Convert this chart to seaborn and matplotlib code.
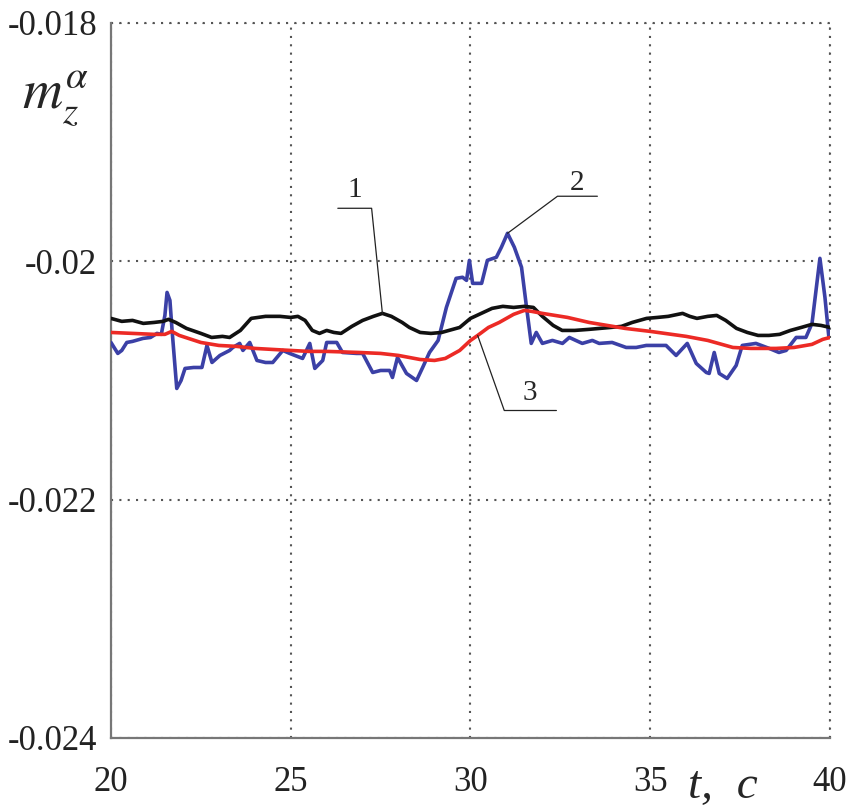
import numpy as np
import pandas as pd
import matplotlib
matplotlib.use("Agg")
import matplotlib.pyplot as plt
import seaborn as sns

# curve 1 (black)
black_t = [20.0, 20.3, 20.6, 20.9, 21.2, 21.45, 21.6, 21.8, 22.1, 22.5,
           22.8, 23.1, 23.3, 23.6, 23.9, 24.3, 24.7, 25.0, 25.2, 25.4,
           25.6, 25.8, 26.0, 26.2, 26.4, 26.7, 27.0, 27.3, 27.55, 27.8,
           28.1, 28.3, 28.6, 28.9, 29.2, 29.4, 29.7, 30.0, 30.3, 30.6,
           30.9, 31.2, 31.5, 31.75, 32.0, 32.3, 32.55, 32.9, 33.3, 33.6,
           33.9, 34.2, 34.5, 34.9, 35.2, 35.5, 35.9, 36.1, 36.3, 36.6,
           36.85, 37.1, 37.4, 37.7, 38.0, 38.3, 38.6, 38.9, 39.2, 39.5,
           39.75, 40.0]
black_m = [-0.020479, -0.020504, -0.020496, -0.020521, -0.020513, -0.020504, -0.020487, -0.020513, -0.020563, -0.020605,
           -0.020639, -0.020630, -0.020639, -0.020580, -0.020479, -0.020462, -0.020462, -0.020471, -0.020462, -0.020496,
           -0.020580, -0.020605, -0.020580, -0.020597, -0.020605, -0.020546, -0.020496, -0.020462, -0.020437, -0.020462,
           -0.020513, -0.020555, -0.020597, -0.020605, -0.020597, -0.020580, -0.020555, -0.020479, -0.020437, -0.020395,
           -0.020378, -0.020387, -0.020378, -0.020387, -0.020462, -0.020538, -0.020580, -0.020580, -0.020571, -0.020563,
           -0.020555, -0.020546, -0.020513, -0.020479, -0.020471, -0.020462, -0.020437, -0.020462, -0.020479, -0.020462,
           -0.020454, -0.020496, -0.020563, -0.020597, -0.020622, -0.020622, -0.020613, -0.020580, -0.020555, -0.020529,
           -0.020538, -0.020555]

# curve 2 (blue)
blue_t = [20.0, 20.19, 20.3, 20.44, 20.6, 20.89, 21.1, 21.28, 21.4, 21.5,
          21.56, 21.64, 21.7, 21.83, 21.95, 22.06, 22.3, 22.53, 22.67, 22.81,
          23.03, 23.3, 23.39, 23.58, 23.67, 23.86, 24.06, 24.3, 24.5, 24.78,
          24.97, 25.33, 25.53, 25.67, 25.89, 26.0, 26.28, 26.44, 26.83, 27.0,
          27.28, 27.5, 27.75, 27.83, 27.97, 28.22, 28.5, 28.67, 28.86, 29.1,
          29.33, 29.6, 29.78, 29.89, 29.97, 30.06, 30.31, 30.47, 30.72, 30.86,
          31.03, 31.22, 31.42, 31.56, 31.69, 31.83, 32.0, 32.28, 32.56, 32.75,
          33.11, 33.39, 33.58, 33.94, 34.33, 34.61, 34.89, 35.44, 35.72, 36.03,
          36.28, 36.56, 36.64, 36.78, 36.92, 37.14, 37.39, 37.56, 37.94, 38.31,
          38.58, 38.78, 39.06, 39.33, 39.5, 39.72, 39.86, 39.97]
blue_m = [-0.020681, -0.020773, -0.020748, -0.020681, -0.020672, -0.020647, -0.020639, -0.020605, -0.020613, -0.020454,
          -0.020261, -0.020328, -0.020580, -0.021067, -0.021000, -0.020899, -0.020891, -0.020891, -0.020706, -0.020849,
          -0.020790, -0.020748, -0.020723, -0.020689, -0.020748, -0.020681, -0.020832, -0.020849, -0.020849, -0.020748,
          -0.020773, -0.020815, -0.020689, -0.020899, -0.020832, -0.020681, -0.020681, -0.020765, -0.020773, -0.020773,
          -0.020933, -0.020916, -0.020916, -0.020975, -0.020807, -0.020941, -0.021000, -0.020891, -0.020765, -0.020664,
          -0.020387, -0.020143, -0.020134, -0.020160, -0.019992, -0.020185, -0.020185, -0.019992, -0.019966, -0.019882,
          -0.019765, -0.019882, -0.020050, -0.020387, -0.020689, -0.020597, -0.020689, -0.020664, -0.020689, -0.020639,
          -0.020689, -0.020664, -0.020689, -0.020681, -0.020723, -0.020723, -0.020706, -0.020706, -0.020790, -0.020689,
          -0.020857, -0.020933, -0.020941, -0.020765, -0.020941, -0.020983, -0.020874, -0.020706, -0.020689, -0.020731,
          -0.020765, -0.020748, -0.020639, -0.020639, -0.020521, -0.019975, -0.020303, -0.020639]

# curve 3 (red)
red_t = [20.0, 20.6, 21.2, 21.5, 21.69, 21.9, 22.5, 23.0, 23.5, 24.0,
         25.0, 25.5, 26.0, 26.9, 27.5, 28.0, 28.6, 29.0, 29.3, 29.7,
         30.0, 30.2, 30.5, 30.8, 31.2, 31.5, 31.7, 32.0, 32.7, 33.3,
         34.3, 35.0, 36.0, 36.6, 37.3, 37.8, 38.5, 39.0, 39.5, 39.8,
         40.0]
red_m = [-0.020597, -0.020605, -0.020613, -0.020613, -0.020588, -0.020622, -0.020681, -0.020706, -0.020714, -0.020731,
         -0.020748, -0.020756, -0.020756, -0.020765, -0.020773, -0.020790, -0.020824, -0.020832, -0.020815, -0.020748,
         -0.020664, -0.020622, -0.020555, -0.020513, -0.020445, -0.020412, -0.020420, -0.020437, -0.020471, -0.020513,
         -0.020563, -0.020588, -0.020630, -0.020664, -0.020723, -0.020731, -0.020731, -0.020723, -0.020697, -0.020655,
         -0.020639]

x_ticks = [20, 25, 30, 35, 40]
y_ticks = [-0.024, -0.022, -0.020, -0.018]
y_tick_labels = ["-0.024", "-0.022", "-0.02", "-0.018"]

sns.set_style("white")
plt.rcParams['font.family'] = ['Liberation Serif', 'DejaVu Serif']
plt.rcParams['mathtext.fontset'] = 'stix'

fig = plt.figure(figsize=(8.51, 8.09), dpi=100)
ax = fig.add_axes([0.1304, 0.0878, 0.8449, 0.8838])

sns.lineplot(x=blue_t, y=blue_m, color='#3b40a6', linewidth=2.6, ax=ax, zorder=3)
sns.lineplot(x=black_t, y=black_m, color='#111111', linewidth=2.6, ax=ax, zorder=4)
sns.lineplot(x=red_t, y=red_m, color='#ec2a25', linewidth=2.6, ax=ax, zorder=5)

ax.set_xlim(20, 40)
ax.set_ylim(-0.024, -0.018)
ax.set_xticks(x_ticks)
ax.set_xticklabels([str(v) for v in x_ticks])
ax.set_yticks(y_ticks)
ax.set_yticklabels(y_tick_labels)
ax.tick_params(axis='both', length=0, labelsize=25, colors='#222222')
ax.tick_params(axis='x', pad=20)
ax.tick_params(axis='y', pad=10)

dots = (0, (1, 3))
ax.grid(True, color='#555555', lw=1.5, linestyle=dots)
for side in ['left', 'bottom']:
    ax.spines[side].set_color('#777777')
    ax.spines[side].set_linewidth(1.6)
for side in ['top', 'right']:
    ax.spines[side].set_visible(False)
# dotted frame on top and right, like the grid
ax.axhline(-0.018, color='#555555', lw=1.5, linestyle=dots, clip_on=False, zorder=2)
ax.axvline(40, color='#555555', lw=1.5, linestyle=dots, clip_on=False, zorder=2)

# leader lines and curve numbers
lead = dict(color='#222222', lw=0.9, zorder=6)
i1 = black_t.index(27.55)
ax.plot([26.31, 27.25, black_t[i1]], [-0.019555, -0.019555, black_m[i1]], **lead)
ax.text(26.78, -0.019403, "1", fontsize=21, ha='center', va='center')

i2 = int(np.argmax(blue_m))
ax.plot([33.53, 32.42, blue_t[i2]], [-0.019454, -0.019454, blue_m[i2]], **lead)
ax.text(32.97, -0.019345, "2", fontsize=21, ha='center', va='center')

r3 = np.interp(30.2, red_t, red_m)
ax.plot([32.39, 30.94, 30.2], [-0.021252, -0.021252, r3], **lead)
ax.text(31.64, -0.021101, "3", fontsize=21, ha='center', va='center')

fig.text(0.026, 0.866, r"$m_z^{\alpha}$", fontsize=40, ha='left', va='baseline')
fig.text(0.808, 0.014, "t,  c", fontsize=34, style='italic', ha='left', va='baseline')

fig.savefig("out.png", dpi=100)
